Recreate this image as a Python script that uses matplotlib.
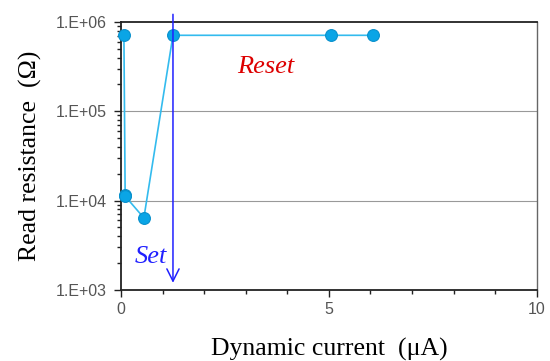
#!/usr/bin/env python3
"""Read resistance vs dynamic current (set / reset)."""

import matplotlib
matplotlib.use("Agg")
import matplotlib.pyplot as plt
from matplotlib.ticker import FixedLocator, LogLocator, NullFormatter

# data
current_ua = [0.07, 0.1, 0.1, 0.55, 1.25, 5.05, 6.05]
resistance = [7.1e5, 1.15e4, 1.12e4, 6.4e3, 7.1e5, 7.1e5, 7.1e5]

set_current = 1.25
x_ticks = [0, 5, 10]
y_ticks = [1e3, 1e4, 1e5, 1e6]
y_labels = ["1.E+03", "1.E+04", "1.E+05", "1.E+06"]

SERIF = ["Liberation Serif", "DejaVu Serif"]
SANS = ["Liberation Sans", "DejaVu Sans"]


def main() -> None:
    fig = plt.figure(figsize=(5.5, 3.61), dpi=100)
    ax = fig.add_axes([0.22, 0.197, 0.756, 0.742])

    ax.set_yscale("log")
    ax.set_xlim(0, 10)
    ax.set_ylim(1e3, 1e6)

    for y in (1e4, 1e5):
        ax.axhline(y, color="#999999", linewidth=0.8, zorder=0)

    ax.plot(current_ua, resistance, color="#33bbee", linewidth=1.2,
            marker="o", markersize=8.5, markerfacecolor="#0aa5e6",
            markeredgecolor="#0890cc", markeredgewidth=0.8, zorder=3,
            clip_on=False)

    # set arrow
    ax.annotate("", xy=(set_current, 1.2e3), xytext=(set_current, 1.22e6),
                xycoords="data", textcoords="data",
                arrowprops=dict(arrowstyle="->", color="#2020ff", lw=1.1,
                                mutation_scale=22, shrinkA=0, shrinkB=0),
                annotation_clip=False, zorder=4)

    ax.text(0.34, 2.0e3, "Set", color="#2020ff", fontsize=19,
            style="italic", family=SERIF, va="baseline")
    ax.text(2.79, 2.7e5, "Reset", color="#dd0000", fontsize=19,
            style="italic", family=SERIF, va="baseline")

    ax.xaxis.set_major_locator(FixedLocator(x_ticks))
    ax.xaxis.set_minor_locator(FixedLocator(range(0, 11)))
    ax.set_xticklabels([str(t) for t in x_ticks], family=SANS,
                       fontsize=11.5, color="#555555")
    ax.set_yticks(y_ticks)
    ax.set_yticklabels(y_labels, family=SANS, fontsize=11.5, color="#555555")
    ax.yaxis.set_minor_locator(LogLocator(base=10, subs=range(2, 10)))
    ax.yaxis.set_minor_formatter(NullFormatter())

    ax.tick_params(which="major", direction="out", length=5, width=1,
                   color="#222222", pad=4)
    ax.tick_params(axis="y", which="major", pad=5)
    ax.tick_params(which="minor", direction="out", length=3, width=1,
                   color="#222222")
    ax.tick_params(axis="x", which="both", top=False)
    ax.tick_params(axis="y", which="both", right=False)

    for side in ("left", "bottom", "top"):
        ax.spines[side].set_color("#222222")
        ax.spines[side].set_linewidth(1.3)
    ax.spines["right"].set_color("#666666")
    ax.spines["right"].set_linewidth(1.0)

    ax.set_xlabel("Dynamic current  (\u03bcA)", family=SERIF, fontsize=18.5)
    ax.set_ylabel("Read resistance  (\u03a9)", family=SERIF, fontsize=18.5)
    ax.xaxis.set_label_coords(0.5, -0.178)
    ax.yaxis.set_label_coords(-0.19, 0.5)

    fig.savefig("out.png", dpi=100)
    plt.close(fig)


if __name__ == "__main__":
    main()
